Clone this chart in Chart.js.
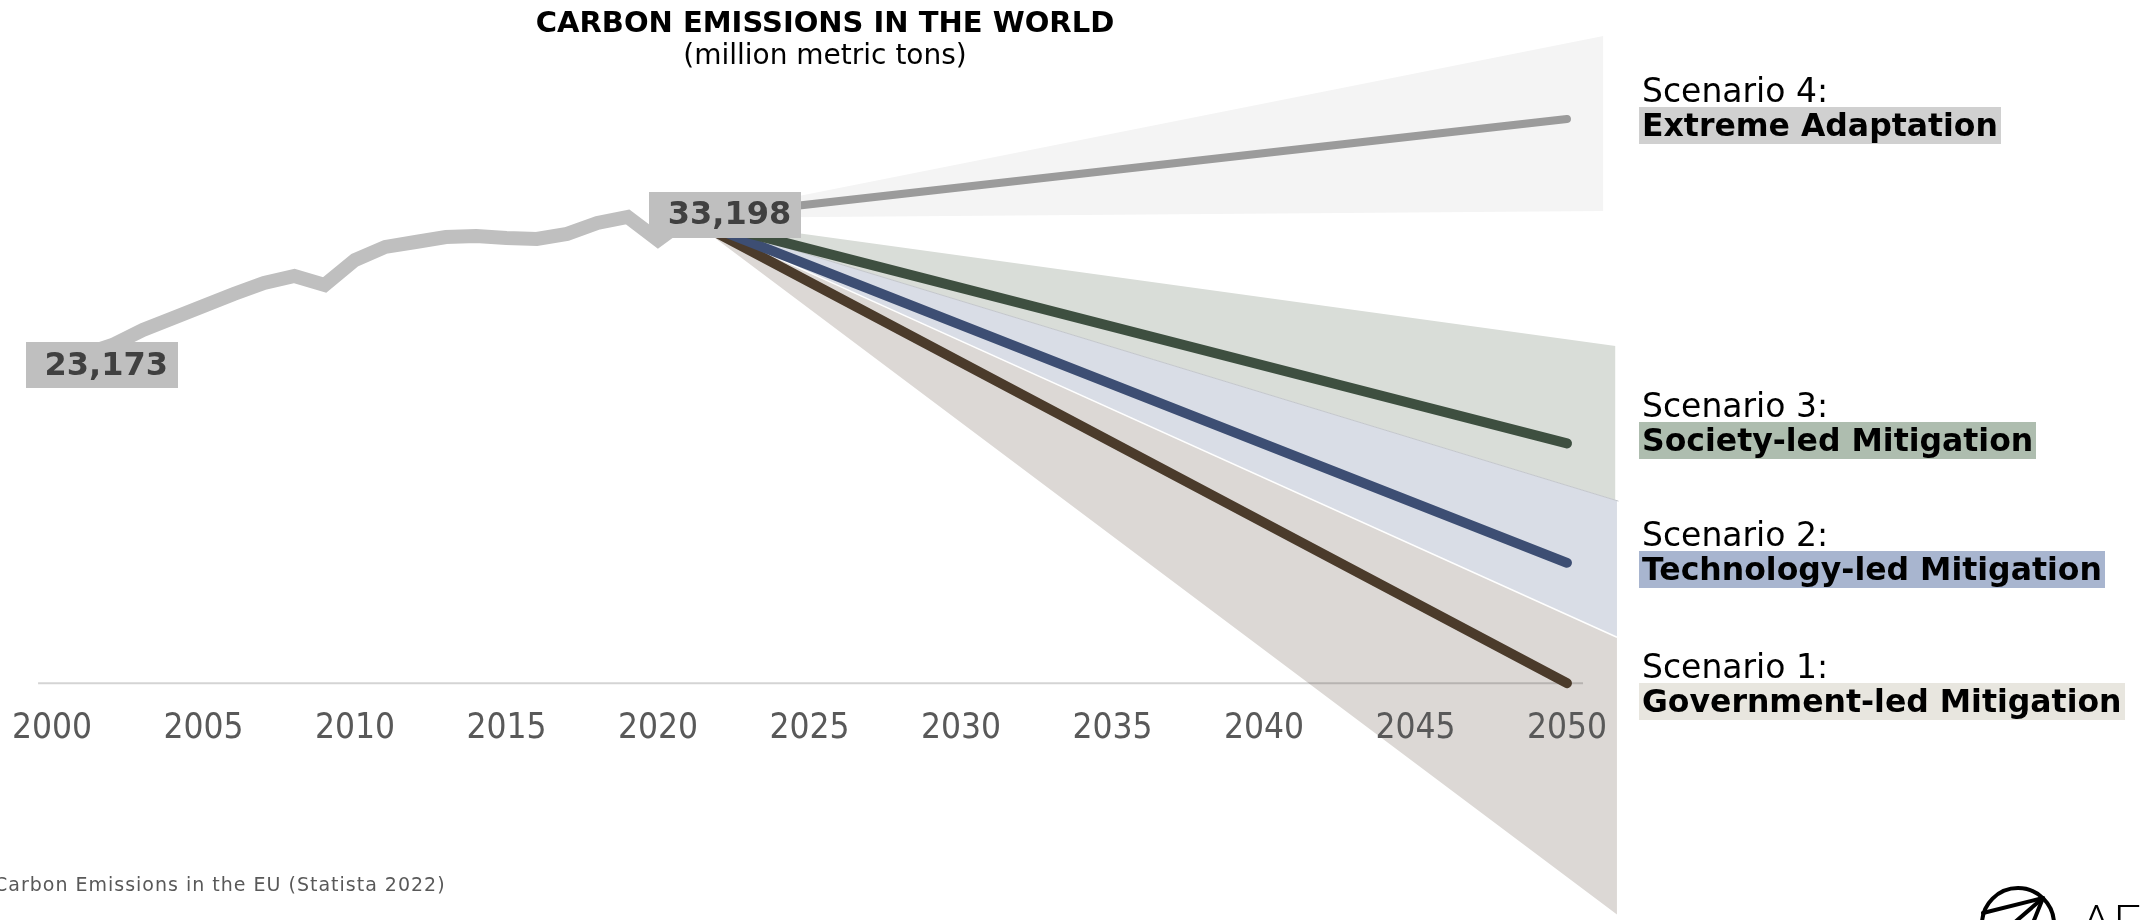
<!DOCTYPE html>
<html>
<head>
<meta charset="utf-8">
<title>Carbon emissions in the world</title>
<script src="https://cdn.jsdelivr.net/npm/chart.js@4"></script>
<style>
  html, body { margin: 0; padding: 0; background: #fff; }
  #wrap { position: relative; width: 2156px; height: 920px; overflow: hidden;
          font-family: 'DejaVu Sans', Verdana, sans-serif; color: #000; }
  #chart { position: absolute; left: 0; top: 0; }
  .title, .subtitle { position: absolute; left: 825px; transform: translateX(-50%);
                      white-space: nowrap; line-height: 1; }
  .title { top: 8px; font-size: 29px; font-weight: bold; }
  .subtitle { top: 41px; font-size: 28px; }
  .scn { position: absolute; left: 1639px; white-space: nowrap; }
  .scn .l1 { font-size: 33px; line-height: 33px; padding-left: 3px; }
  .scn .l2 { display: inline-block; font-size: 31.5px; line-height: 33px; padding: 2px 3px; font-weight: bold; }
  .source { position: absolute; left: -6px; top: 875px; font-size: 19px; line-height: 1;
            letter-spacing: 1px; color: #595959; white-space: nowrap; }
  #logo { position: absolute; left: 0; top: 0; pointer-events: none; }
</style>
</head>
<body>
<div id="wrap">
  <canvas id="chart" width="2156" height="920"></canvas>

  <div class="title">CARBON EMISSIONS IN THE WORLD</div>
  <div class="subtitle">(million metric tons)</div>

  <div class="scn" style="top:74px"><div class="l1">Scenario 4:</div><span class="l2" style="background:#d0d0d0">Extreme Adaptation</span></div>
  <div class="scn" style="top:389px"><div class="l1">Scenario 3:</div><span class="l2" style="background:#aebdaf">Society-led Mitigation</span></div>
  <div class="scn" style="top:518px"><div class="l1">Scenario 2:</div><span class="l2" style="background:#a8b5cf">Technology-led Mitigation</span></div>
  <div class="scn" style="top:650px"><div class="l1">Scenario 1:</div><span class="l2" style="background:#e8e6df">Government-led Mitigation</span></div>

  <div class="source">Carbon Emissions in the EU (Statista 2022)</div>

  <svg id="logo" width="2156" height="920" viewBox="0 0 2156 920">
    <g fill="none" stroke="#000" stroke-width="4" stroke-linecap="round">
      <circle cx="2018" cy="924" r="36"/>
      <line x1="2043" y1="898" x2="1983" y2="913"/>
      <line x1="2043" y1="898" x2="2000" y2="935"/>
      <line x1="2043" y1="898" x2="2022" y2="950"/>
    </g>
    <text x="2080" y="940" font-family="Lato, 'DejaVu Sans', sans-serif" font-weight="300" font-size="50" fill="#000">AE</text>
  </svg>
</div>

<script>
// Historical emissions, million metric tons
const years = [2000, 2001, 2002, 2003, 2004, 2005, 2006, 2007, 2008, 2009, 2010,
               2011, 2012, 2013, 2014, 2015, 2016, 2017, 2018, 2019, 2020, 2021];
const emissions = [23173, 23420, 24130, 25200, 26060, 26920, 27770, 28560, 29060, 28420, 30200,
                   31130, 31480, 31840, 31910, 31770, 31700, 32060, 32840, 33270, 31630, 33198];

// Axis tick labels
const tickYears = [2000, 2005, 2010, 2015, 2020, 2025, 2030, 2035, 2040, 2045, 2050];

// Scenario paths to 2050
const scenarioYears = [2021, 2050];
const extremeAdaptation = [33198, 40260];
const societyLed = [33198, 17110];
const technologyLed = [33198, 8590];
const governmentLed = [33198, 0];

// Uncertainty fan: every edge leaves the 2021 value and ends just past 2050
// edges, top to bottom: S4 high, S4 low, S3 high, S3/S2 split, S2/S1 split, S1 low
const fanStartYear = 2021;
const fanStartValue = 33198;
const fanEndYears = [2051.2, 2051.4, 2051.6, 2051.7, 2051.65, 2051.9];
const fanEndValues = [46190, 33700, 24060, 12990, 3280, -16920];

// Zero line under the year axis
const baselineYears = [1999.54, 2050.53];
const baselineValues = [0, 0];

const xy = (xs, ys) => xs.map((x, i) => ({ x, y: ys[i] }));
const fanEdge = i => [{ x: fanStartYear, y: fanStartValue }, { x: fanEndYears[i], y: fanEndValues[i] }];

const CLEAR = 'rgba(0,0,0,0)';

// Grey value tags on the first and last historical points
const valueTags = {
  id: 'valueTags',
  afterDatasetsDraw(chart) {
    const { ctx, scales: { x, y } } = chart;
    const tags = [
      { year: years[0], value: emissions[0], dx: 50, dy: 7 },
      { year: years[years.length - 1], value: emissions[emissions.length - 1], dx: 37, dy: -3 }
    ];
    const w = 152, h = 46;
    ctx.save();
    ctx.font = 'bold 32px "DejaVu Sans", Verdana, sans-serif';
    ctx.textAlign = 'right';
    ctx.textBaseline = 'middle';
    tags.forEach(t => {
      const cx = x.getPixelForValue(t.year) + t.dx;
      const cy = y.getPixelForValue(t.value) + t.dy;
      ctx.fillStyle = '#bfbfbf';
      ctx.fillRect(Math.round(cx - w / 2), Math.round(cy - h / 2), w, h);
      ctx.fillStyle = '#404040';
      ctx.fillText(t.value.toLocaleString('en-US'), cx + w / 2 - 10, cy + 1);
    });
    ctx.restore();
  }
};

new Chart(document.getElementById('chart'), {
  type: 'line',
  data: {
    datasets: [
      { label: 'Historical', data: xy(years, emissions), borderColor: '#bfbfbf', borderWidth: 14,
        borderJoinStyle: 'miter', borderCapStyle: 'butt' },
      { label: 'Scenario 4', data: xy(scenarioYears, extremeAdaptation), borderColor: '#9b9b9b',
        borderWidth: 8, borderCapStyle: 'round' },
      { label: 'Scenario 3', data: xy(scenarioYears, societyLed), borderColor: '#3e4f40',
        borderWidth: 10, borderCapStyle: 'round' },
      { label: 'Scenario 2', data: xy(scenarioYears, technologyLed), borderColor: '#3d4e73',
        borderWidth: 10, borderCapStyle: 'round' },
      { label: 'Scenario 1', data: xy(scenarioYears, governmentLed), borderColor: '#4b3b2b',
        borderWidth: 10, borderCapStyle: 'round' },
      { label: 'Zero', data: xy(baselineYears, baselineValues), borderColor: 'rgba(0,0,0,0.17)',
        borderWidth: 2 },
      { label: 'S4 fan', data: fanEdge(0), borderColor: CLEAR, backgroundColor: '#f4f4f4', fill: '+1' },
      { label: 'S4 fan low', data: fanEdge(1), borderColor: CLEAR, fill: false },
      { label: 'S3 fan', data: fanEdge(2), borderColor: CLEAR, backgroundColor: '#d9ddd8', fill: '+1' },
      { label: 'S2 fan', data: fanEdge(3), borderColor: '#c3c6cb', borderWidth: 1,
        backgroundColor: '#d9dde6', fill: '+1' },
      { label: 'S1 fan', data: fanEdge(4), borderColor: '#ffffff', borderWidth: 1.5,
        backgroundColor: '#dcd8d5', fill: '+1' },
      { label: 'S1 fan low', data: fanEdge(5), borderColor: CLEAR, fill: false }
    ]
  },
  options: {
    responsive: false,
    animation: false,
    devicePixelRatio: 1,
    layout: { padding: 0 },
    elements: { point: { radius: 0, hoverRadius: 0 }, line: { tension: 0 } },
    plugins: {
      legend: { display: false },
      tooltip: { enabled: false },
      filler: { drawTime: 'beforeDatasetsDraw' }
    },
    scales: {
      x: {
        type: 'linear',
        min: 1998.284,
        max: 2069.44,
        position: { y: 0 },
        grid: { display: false, drawTicks: true, tickLength: 24 },
        border: { display: false },
        afterBuildTicks: scale => { scale.ticks = tickYears.map(v => ({ value: v })); },
        ticks: {
          z: 1,
          autoSkip: false,
          maxRotation: 0,
          padding: 1,
          color: '#595959',
          font: { family: "'DejaVu Sans Condensed', 'DejaVu Sans', sans-serif", size: 35 },
          callback: v => String(v)
        }
      },
      y: { type: 'linear', display: false, min: -16900, max: 48750 }
    }
  },
  plugins: [valueTags]
});
</script>
</body>
</html>
